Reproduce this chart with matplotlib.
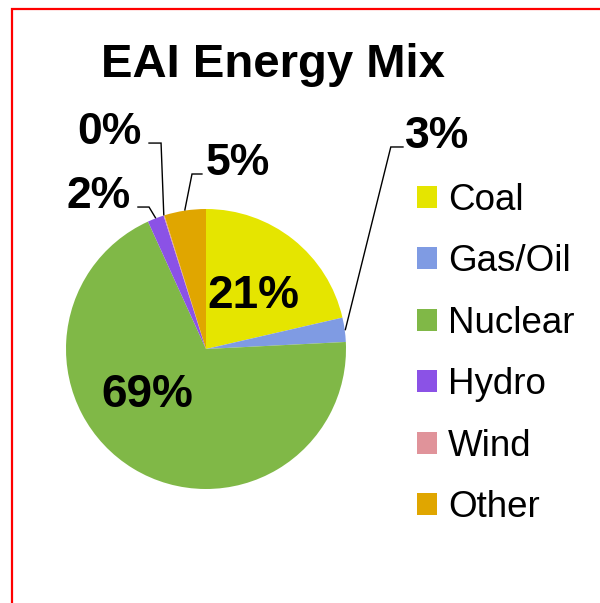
import numpy as np
import matplotlib
matplotlib.use('Agg')
import matplotlib.pyplot as plt
from matplotlib.patches import Patch, Rectangle

# data
sources = ['Coal', 'Gas/Oil', 'Nuclear', 'Hydro', 'Wind', 'Other']
shares = [21.4, 2.8, 69.0, 1.9, 0.1, 4.8]
colors = ['#E5E500', '#7F9BE3', '#80B847', '#8B52E6', '#E0939A', '#E0A600']
title = 'EAI Energy Mix'

# label layout (data units, pie radius = 1)
inside_pos = {'Coal': (0.34, 0.38), 'Nuclear': (-0.42, -0.33)}
# elbow point, end of horizontal tick, text anchor, ha
outside_pos = {
    'Gas/Oil': ((1.32, 1.443), (1.407, 1.443), (1.42, 1.443), 'left'),
    'Wind':    ((-0.321, 1.471), (-0.407, 1.471), (-0.46, 1.471), 'right'),
    'Hydro':   ((-0.407, 1.014), (-0.486, 1.014), (-0.535, 1.014), 'right'),
    'Other':   ((-0.10, 1.25), (-0.029, 1.25), (0.0, 1.25), 'left'),
}

fontName = 'Liberation Sans'
plt.rcParams.update({'font.family': fontName})

W, H = 600, 603
fig = plt.figure(figsize=(W / 100, H / 100), dpi=100)

cx, cy, r = 206, 349, 140
ax = fig.add_axes([(cx - r) / W, (H - cy - r) / H, 2 * r / W, 2 * r / H])
wedges, _ = ax.pie(shares, colors=colors, startangle=90, counterclock=False,
                   radius=1.0, wedgeprops=dict(linewidth=0))
ax.set_xlim(-1, 1)
ax.set_ylim(-1, 1)
ax.set_aspect('equal')
ax.axis('off')

total = sum(shares)
for name, w, v in zip(sources, wedges, shares):
    pct = '%d%%' % round(100 * v / total)
    if name in inside_pos:
        x, y = inside_pos[name]
        ax.text(x, y, pct, ha='center', va='center', fontsize=33,
                fontweight='bold', color='black')
    elif name in outside_pos:
        mid = np.deg2rad((w.theta1 + w.theta2) / 2)
        px, py = np.cos(mid) * 1.005, np.sin(mid) * 1.005
        elbow, end, tpos, ha = outside_pos[name]
        ax.plot([px, elbow[0], end[0]], [py, elbow[1], end[1]], color='black',
                lw=1.0, clip_on=False, solid_joinstyle='miter')
        ax.text(tpos[0], tpos[1] - 0.01, pct, ha=ha, va='baseline', fontsize=32,
                fontweight='bold', color='black', clip_on=False)

# legend
handles = [Patch(facecolor=c, edgecolor='none') for c in colors]
fig.legend(handles, sources, loc='center left', bbox_to_anchor=(417 / W, 1 - 354 / H),
           frameon=False, fontsize=26.5, borderpad=0, borderaxespad=0,
           handlelength=0.55, handleheight=0.55, handletextpad=0.3, labelspacing=0.72)

# title
fig.text(273 / W, 1 - 77 / H, title, ha='center', va='baseline', fontsize=34,
         fontweight='bold')

# red frame
fig.patches.append(Rectangle((12 / W, -0.1), 1.2, 1.1 - 9.5 / H,
                             transform=fig.transFigure, fill=False,
                             edgecolor='#FF0000', linewidth=1.6, figure=fig))

fig.savefig('out.png', dpi=100)
